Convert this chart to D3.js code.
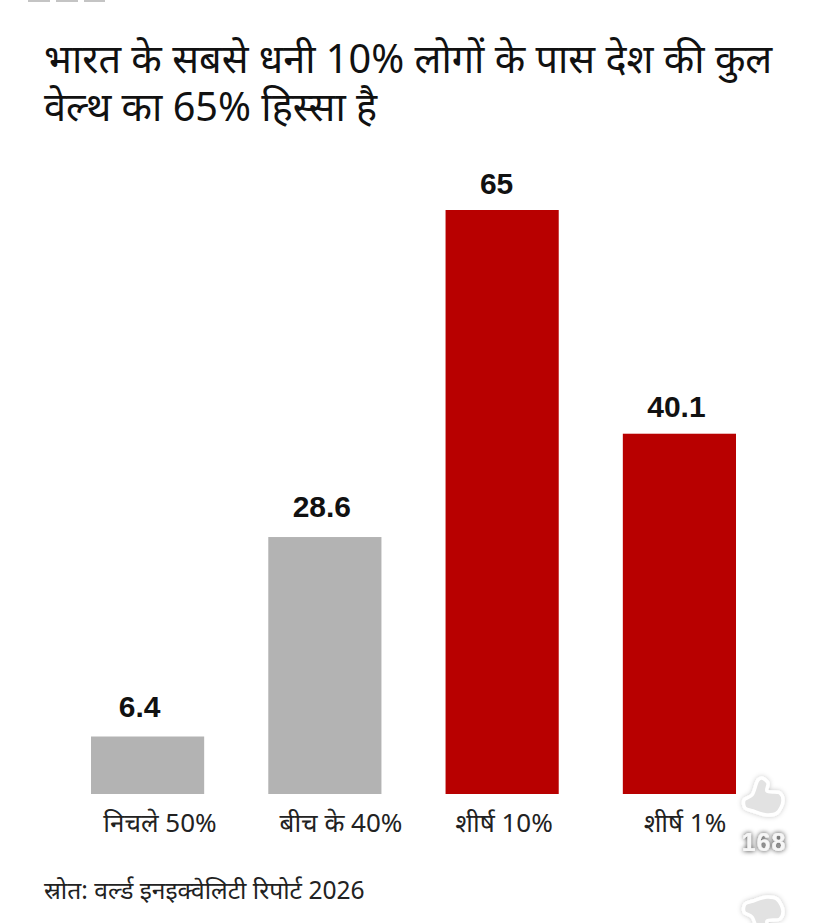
<!DOCTYPE html>
<html><head><meta charset="utf-8">
<script src="https://cdn.jsdelivr.net/npm/d3@7"></script>
<style>html,body{margin:0;padding:0;background:#fff}svg{display:block}
text{font-family:"Noto Sans","Open Sans","Liberation Sans",sans-serif}</style></head>
<body><svg id="c" width="828" height="923"></svg>
<script>
const categories=["निचले 50%","बीच के 40%","शीर्ष 10%","शीर्ष 1%"];
const values=[6.4,28.6,65,40.1];
const valueLabels=["6.4","28.6","65","40.1"];
const barColors=["#b3b3b3","#b3b3b3","#b80000","#b80000"];
const titleLines=["भारत के सबसे धनी 10% लोगों के पास देश की कुल","वेल्थ का 65% हिस्सा है"];
const source="स्रोत: वर्ल्ड इनइक्वेलिटी रिपोर्ट 2026";
const likes="168";

const svg=d3.select("#c");
const x=d3.scaleBand().domain(categories).range([91,736]).paddingInner(0.3616).paddingOuter(0);
const y=d3.scaleLinear().domain([0,65]).range([794,210]);

svg.selectAll("rect.top").data([[28,22],[56,22],[84,21]]).join("rect")
  .attr("x",d=>d[0]).attr("y",0).attr("width",d=>d[1]).attr("height",2).attr("fill","#c4c4c4");

svg.selectAll("text.title").data(titleLines).join("text").attr("class","title")
  .attr("x",44).attr("y",(d,i)=>73+i*48).attr("font-size",39.7).attr("fill","#111").text(d=>d);

svg.selectAll("rect.bar").data(values).join("rect").attr("class","bar")
  .attr("x",(d,i)=>x(categories[i])).attr("width",x.bandwidth())
  .attr("y",d=>y(d)).attr("height",d=>y(0)-y(d)).attr("fill",(d,i)=>barColors[i]);

const valueOffset=[-8,-3,-5.5,-3];
const valueRaise=[19.5,20.5,16.5,16.5];
svg.selectAll("text.val").data(values).join("text").attr("class","val")
  .attr("x",(d,i)=>x(categories[i])+x.bandwidth()/2+valueOffset[i]).attr("y",(d,i)=>y(d)-valueRaise[i])
  .attr("text-anchor","middle").attr("font-size",30).attr("font-weight",700).attr("fill","#111")
  .attr("style","font-family:'Liberation Sans',sans-serif")
  .text((d,i)=>valueLabels[i]);

const labelCx=[160,341,504,685];
svg.selectAll("text.cat").data(categories).join("text").attr("class","cat")
  .attr("x",(d,i)=>labelCx[i]).attr("y",832).attr("text-anchor","middle")
  .attr("font-size",26).attr("fill","#222").text(d=>d);

svg.append("text").attr("x",44).attr("y",899).attr("font-size",24.6).attr("fill","#222").text(source);

const outline=[[18,0],[24,5],[23,13],[36,15],[39,23],[33,35],[23,37],[9,33],[1,30],[0,22],[8,17],[14,2]];
const thumb=d3.line().curve(d3.curveCatmullRomClosed.alpha(0.5))(outline);
const ic=svg.append("defs").append("filter").attr("id","sh").attr("x","-40%").attr("y","-40%").attr("width","180%").attr("height","180%");
ic.append("feDropShadow").attr("dx",0).attr("dy",0).attr("stdDeviation",2.5).attr("flood-color","#000").attr("flood-opacity",0.22);
const tx=svg.append("defs").append("filter").attr("id","txt").attr("x","-30%").attr("y","-50%").attr("width","160%").attr("height","200%");
tx.append("feDropShadow").attr("dx",0).attr("dy",0).attr("stdDeviation",2.5).attr("flood-color","#000").attr("flood-opacity",0.85);
[["translate(744,778)"],["translate(744,934) scale(1,-1)"]].forEach(t=>{
  svg.append("path").attr("d",thumb).attr("transform",t[0])
    .attr("fill","#e2e2e2").attr("stroke","#fff").attr("stroke-width",3.5).attr("stroke-linejoin","round").attr("filter","url(#sh)");
});
svg.append("text").attr("x",764).attr("y",851).attr("text-anchor","middle").attr("font-size",25)
  .attr("letter-spacing",1).attr("font-weight",700).attr("fill","#f6f6f6").attr("filter","url(#txt)")
  .attr("style","font-family:'Liberation Sans',sans-serif").text(likes);
</script></body></html>
